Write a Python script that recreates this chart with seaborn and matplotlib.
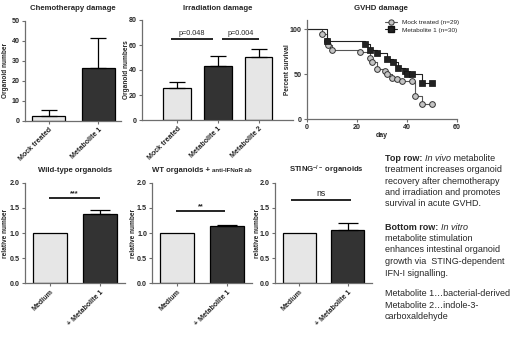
import numpy as np
import matplotlib
matplotlib.use("Agg")
import matplotlib.pyplot as plt
from matplotlib.lines import Line2D
import seaborn as sns

# ---- data ----
chemo_cats = ["Mock treated", "Metabolite 1"]
chemo_vals = [2.5, 26.3]
chemo_errs = [2.9, 14.9]

irr_cats = ["Mock treated", "Metabolite 1", "Metabolite 2"]
irr_vals = [25.3, 43.5, 50.1]
irr_errs = [5.4, 8.0, 6.7]
irr_pvals = ["p=0.048", "p=0.004"]

mock_days = [0, 6, 8, 8.5, 10, 21, 25, 26, 28, 31, 32, 34, 36, 38, 42, 43, 46, 50]
mock_surv = [100, 94, 87, 82, 77, 74, 68, 64, 56, 53, 50, 46, 45, 42, 42, 26, 17, 17]
met_days = [0, 8, 23, 25, 28, 32, 34.5, 36.5, 39, 40, 42, 46, 50]
met_surv = [100, 87, 83, 77, 73, 67, 63, 57, 53, 50, 50, 40, 40]
gvhd_labels = ["Mock treated (n=29)", "Metabolite 1 (n=30)"]

bottom_cats = ["Medium", "+ Metabolite 1"]
wt_vals = [1.0, 1.37]
wt_errs = [0.0, 0.09]
ifn_vals = [1.0, 1.14]
ifn_errs = [0.0, 0.02]
sting_vals = [1.0, 1.06]
sting_errs = [0.0, 0.14]

LIGHT = "#e6e6e6"
DARK = "#333333"
AXIS_GRAY = "#6e6e6e"

sns.set_style("ticks")
plt.rcParams["font.family"] = ["Liberation Sans", "DejaVu Sans"]
plt.rcParams["mathtext.fontset"] = "custom"
plt.rcParams["mathtext.rm"] = "Liberation Sans"
plt.rcParams["mathtext.bf"] = "Liberation Sans:bold"
plt.rcParams["mathtext.it"] = "Liberation Sans:italic"

W, H = 520, 337
fig = plt.figure(figsize=(W / 100, H / 100), dpi=100)
renderer = fig.canvas.get_renderer()


def px_axes(left, top, right, bottom):
    return fig.add_axes([left / W, 1 - bottom / H, (right - left) / W, (bottom - top) / H])


def style_axes(ax, ylabel, label_px, left, right):
    sns.despine(ax=ax)
    for s in ["left", "bottom"]:
        ax.spines[s].set_color(AXIS_GRAY)
        ax.spines[s].set_linewidth(0.9)
    ax.tick_params(direction="out", length=2.5, width=0.8, color=AXIS_GRAY,
                   labelsize=5.1, pad=1.2)
    for lab in ax.get_yticklabels():
        lab.set_fontweight("bold")
    ax.set_ylabel(ylabel, fontsize=4.7, fontweight="bold")
    ax.yaxis.set_label_coords((label_px - left) / (right - left), 0.5)


def bar_panel(ax, cats, vals, errs, colors, width, capsize):
    sns.barplot(x=cats, y=vals, hue=cats, palette=dict(zip(cats, colors)),
                legend=False, width=width, edgecolor="black", linewidth=0.9,
                saturation=1, errorbar=None, ax=ax)
    pos = np.arange(len(cats))
    errs = np.asarray(errs)
    keep = errs > 0
    ax.errorbar(pos[keep], np.asarray(vals)[keep],
                yerr=[np.zeros(keep.sum()), errs[keep]], fmt="none",
                ecolor="black", elinewidth=0.9, capsize=capsize, capthick=0.9)
    ax.set_xticks(pos, cats, rotation=45, ha="right", rotation_mode="anchor",
                  fontsize=4.6, fontweight="bold")


def sig(ax, x0, x1, y, label, size, weight, off):
    ax.plot([x0, x1], [y, y], color="black", lw=1.2, solid_capstyle="butt")
    ax.annotate(label, ((x0 + x1) / 2, y), xytext=(0, off), textcoords="offset points",
                ha="center", va="bottom", fontsize=size, fontweight=weight)


def pieces_at(x_px, y_px, pieces, centered=False):
    texts = [fig.text(0, 0, t, va="baseline", **st) for t, st in pieces]
    widths = [t.get_window_extent(renderer).width for t in texts]
    x = x_px - sum(widths) / 2 if centered else x_px
    for t, w in zip(texts, widths):
        t.set_position((x / W, 1 - y_px / H))
        x += w


TB = dict(fontsize=5.6, fontweight="bold")

# ---- Chemotherapy ----
ax = px_axes(25, 20.7, 120.7, 120.7)
bar_panel(ax, chemo_cats, chemo_vals, chemo_errs, [LIGHT, DARK], 0.665, 6)
ax.set_xlim(-0.48, 1.45)
ax.set_ylim(0, 50)
ax.set_yticks(range(0, 51, 10))
style_axes(ax, "Organoid number", 9.5, 25, 120.7)
pieces_at(73, 10.5, [("Chemotherapy damage", TB)], centered=True)

# ---- Irradiation ----
ax = px_axes(142.3, 20, 293, 120)
bar_panel(ax, irr_cats, irr_vals, irr_errs, [LIGHT, DARK, LIGHT], 0.675, 6)
ax.set_xlim(-0.857, 2.846)
ax.set_ylim(0, 80)
ax.set_yticks(range(0, 81, 20))
style_axes(ax, "Organoid numbers", 130.5, 142.3, 293)
sig(ax, -0.16, 0.89, 64.5, irr_pvals[0], 5.2, "normal", 2)
sig(ax, 1.11, 2.02, 64.5, irr_pvals[1], 5.2, "normal", 2)
pieces_at(218, 10.5, [("Irradiation damage", TB)], centered=True)

# ---- GVHD survival ----
ax = px_axes(307, 20.0, 457, 119.3)
sns.lineplot(x=mock_days, y=mock_surv, drawstyle="steps-post", color="#555555",
             lw=0.8, estimator=None, sort=False, ax=ax)
sns.lineplot(x=met_days, y=met_surv, drawstyle="steps-post", color="#222222",
             lw=0.8, estimator=None, sort=False, ax=ax)
sns.scatterplot(x=mock_days[1:], y=mock_surv[1:], marker="o", s=17, color="#c4c4c4",
                edgecolor="#333333", linewidth=0.7, ax=ax, zorder=3)
sns.scatterplot(x=met_days[1:], y=met_surv[1:], marker="s", s=17, color="#222222",
                edgecolor="#111111", linewidth=0.5, ax=ax, zorder=3)
ax.set_xlim(0, 60)
ax.set_ylim(0, 110)
ax.set_xticks([0, 20, 40, 60])
ax.set_yticks([0, 50, 100])
style_axes(ax, "Percent survival", 291, 307, 457)
for lab in ax.get_xticklabels():
    lab.set_fontweight("bold")
ax.set_xlabel("day", fontsize=5, fontweight="bold")
ax.xaxis.set_label_coords(0.5, -0.125)
handles = [
    Line2D([0], [0], color="#555555", lw=0.8, marker="o", markersize=3.8,
           markerfacecolor="#c4c4c4", markeredgecolor="#333333", markeredgewidth=0.7),
    Line2D([0], [0], color="#222222", lw=0.8, marker="s", markersize=3.8,
           markerfacecolor="#222222", markeredgecolor="#111111"),
]
fig.legend(handles, gvhd_labels, loc="upper left", bbox_to_anchor=(385 / W, 1 - 20 / H),
           frameon=False, fontsize=4.6, handlelength=1.8, handletextpad=0.8,
           labelspacing=0.25, borderpad=0, borderaxespad=0)
pieces_at(381, 9.5, [("GVHD damage", TB)], centered=True)

# ---- bottom row ----
panels = [
    ((25, 125), wt_vals, wt_errs, 9.5, (-0.02, 0.99, 1.70, "***", 5.2, "bold", 0.3)),
    ((152.3, 251.7), ifn_vals, ifn_errs, 137, (-0.02, 0.97, 1.44, "**", 5.2, "bold", 0.3)),
    ((275, 372), sting_vals, sting_errs, 261, (-0.16, 1.06, 1.66, "ns", 6.3, "normal", 1.2)),
]
for (left, right), vals, errs, lab_px, s in panels:
    ax = px_axes(left, 182.7, right, 283.3)
    bar_panel(ax, bottom_cats, vals, errs, [LIGHT, DARK], 0.68, 7)
    ax.set_xlim(-0.5, 1.5)
    ax.set_ylim(0, 2)
    ax.set_yticks([0, 0.5, 1.0, 1.5, 2.0])
    style_axes(ax, "relative number", lab_px, left, right)
    sig(ax, *s)

pieces_at(75, 172, [("Wild-type organoids", TB)], centered=True)
pieces_at(202, 172, [("WT organoids + ", TB),
                     ("anti-IFNαR ab", dict(fontsize=4.4, fontweight="bold"))], centered=True)
pieces_at(326.7, 172.5, [(r"STING$^{\mathbf{-/-}}$ organoids", TB)], centered=True)

# ---- text block ----
REG = dict(fontsize=6.5)
BOLD = dict(fontsize=6.5, fontweight="bold")
ITAL = dict(fontsize=6.5, style="italic")
paragraphs = [
    (160.5, [[("Top row: ", BOLD), ("In vivo", ITAL), (" metabolite", REG)],
             [("treatment increases organoid", REG)],
             [("recovery after chemotherapy", REG)],
             [("and irradiation and promotes", REG)],
             [("survival in acute GVHD.", REG)]]),
    (229.5, [[("Bottom row: ", BOLD), ("In vitro", ITAL)],
             [("metabolite stimulation", REG)],
             [("enhances intestinal organoid", REG)],
             [("growth via  STING-dependent", REG)],
             [("IFN-I signalling.", REG)]]),
    (296, [[("Metabolite 1…bacterial-derived", REG)],
           [("Metabolite 2…indole-3-", REG)],
           [("carboxaldehyde", REG)]]),
]
for y0, lines in paragraphs:
    for i, line in enumerate(lines):
        pieces_at(385, y0 + i * 11.5, line)

fig.savefig("out.png", dpi=100)
